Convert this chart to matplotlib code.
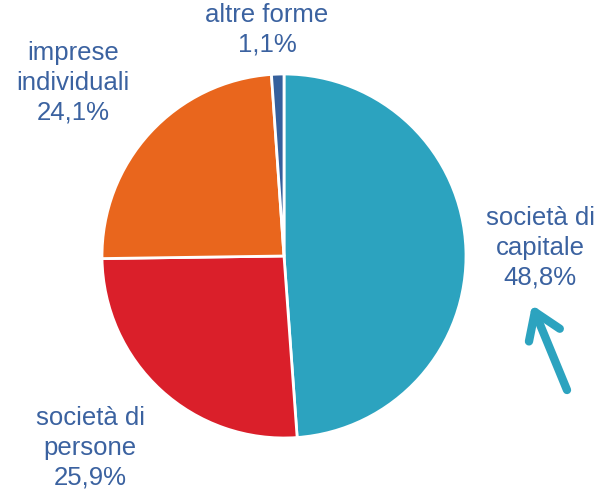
import matplotlib.pyplot as plt

categorie = ["società di\ncapitale", "società di\npersone", "imprese\nindividuali", "altre forme"]
quote = [48.8, 25.9, 24.1, 1.1]
etichette = ["48,8%", "25,9%", "24,1%", "1,1%"]
colori = ["#2CA3BF", "#DA1F2A", "#E9661D", "#36609C"]
col_testo = "#3B62A0"

plt.rcParams['font.family'] = ['Liberation Sans', 'DejaVu Sans']

fig = plt.figure(figsize=(6.08, 4.93), dpi=100)
ax = fig.add_axes([0, 0, 1, 1])

H = 493
ax.pie(quote, colors=colori, startangle=90, counterclock=False,
       center=(284, H - 256), radius=182, frame=True,
       wedgeprops=dict(edgecolor="white", linewidth=2))

ax.set_xlim(0, 608)
ax.set_ylim(0, H)
ax.set_aspect('equal')
ax.axis('off')

# posizioni delle etichette (in pixel)
pos = [(540, 248), (90, 448), (73, 83), (267, 30)]
for cat, lab, (x, y) in zip(categorie, etichette, pos):
    ax.text(x, H - y, cat + "\n" + lab, ha="center", va="center",
            fontsize=18.5, color=col_testo, linespacing=1.3)

# freccia
ax.annotate("", xy=(532, H - 305), xytext=(567, H - 390),
            arrowprops=dict(arrowstyle="->,head_length=0.45,head_width=0.3",
                            lw=6, color=colori[0], mutation_scale=40,
                            shrinkA=0, shrinkB=0, capstyle="round", joinstyle="round"))

fig.savefig("out.png", dpi=100)
